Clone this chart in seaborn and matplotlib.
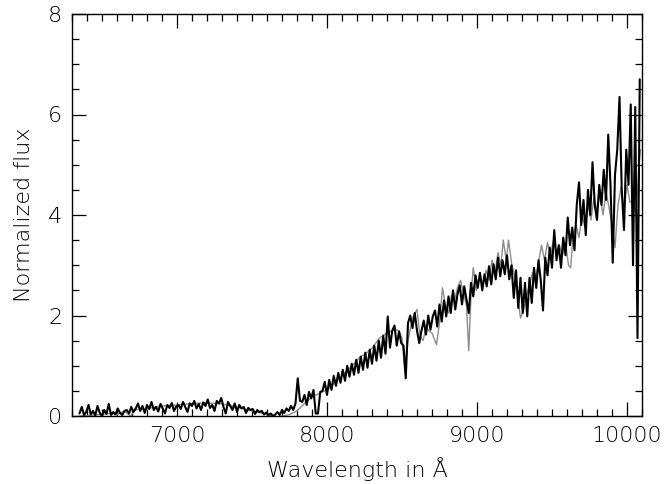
import numpy as np
import pandas as pd
import matplotlib
matplotlib.use("Agg")
import matplotlib.pyplot as plt
import seaborn as sns
from matplotlib.ticker import MultipleLocator

# ---------------- data ----------------
obs_start = 6350.0
obs_step = 15.0
obs_a = [0.05, 0.18, 0.02, 0.08, 0.22, 0.03, 0.10, 0.01, 0.20, 0.06, 0.00,
         0.12, 0.04, 0.24, 0.02, 0.08, 0.03, 0.15, 0.06, 0.02, 0.10]
obs_b = [0.12, 0.05, 0.18, 0.08, 0.15, 0.25, 0.10, 0.20, 0.06, 0.22, 0.14, 0.28,
         0.12, 0.18, 0.09, 0.24, 0.15, 0.05, 0.22, 0.16, 0.26, 0.10, 0.19]
obs_c = [0.22, 0.14, 0.28, 0.18, 0.08, 0.25, 0.20, 0.30, 0.15, 0.24,
         0.12, 0.27, 0.20, 0.33, 0.16, 0.22, 0.10, 0.30, 0.25, 0.36]
obs_d = [0.18, 0.05, 0.28, 0.20, 0.12, 0.25, 0.08, 0.22, 0.15, 0.18, 0.06, 0.16,
         0.12, 0.14, 0.04, 0.12, 0.08, 0.10, 0.03, 0.07, 0.02, 0.05, 0.00]
obs_e = [0.03, 0.08, 0.02, 0.12, 0.06, 0.15, 0.10, 0.20, 0.12, 0.25, 0.75,
         0.30, 0.28, 0.42, 0.22, 0.48, 0.35, 0.52, 0.05, 0.05, 0.48]
obs_f = [0.50, 0.68, 0.42, 0.72, 0.52, 0.80, 0.60, 0.86, 0.66, 0.92, 0.70, 1.00,
         0.78, 1.04, 0.82, 1.12, 0.86, 1.18, 0.92, 1.26, 0.96, 1.32, 1.04, 1.40,
         1.10, 1.50, 1.16, 1.60, 1.24, 1.98, 1.36, 1.70, 1.80, 1.40, 1.68, 1.45]
obs_g = [1.40, 0.75, 1.85, 2.00, 1.75, 2.05, 1.70, 1.45, 1.70, 1.90, 1.62,
         2.00, 1.72, 1.98, 2.10, 1.78, 2.22, 1.88, 2.30, 1.98, 2.38, 2.05,
         2.50, 2.12, 2.42, 2.60, 2.22, 2.58, 2.32, 2.05, 2.65, 2.38, 2.80]
obs_h = [2.55, 2.85, 2.50, 2.82, 2.58, 2.98, 2.62, 3.02, 2.72, 3.15, 2.78, 3.10,
         2.82, 3.20, 2.72, 3.00, 2.35, 2.90, 2.15, 2.75, 2.05, 2.65, 1.98, 2.75,
         2.25, 2.95, 2.55, 3.10, 2.70, 2.10, 3.15, 2.80, 3.35, 2.95]
obs_i = [3.70, 3.10, 3.40, 2.95, 3.55, 3.20, 3.95, 3.40, 3.75, 3.30,
         4.20, 4.65, 3.80, 4.30, 3.60, 4.50, 4.00, 5.05, 4.20, 3.90]
obs_j = [4.60, 4.20, 4.90, 4.30, 5.60, 4.60, 3.05, 4.80, 5.30, 6.35,
         4.50, 3.70, 5.30, 4.60, 6.20, 3.00, 6.15, 1.55, 6.70]

model_wave = [6350, 6450, 6550, 6600, 6650, 6690, 6720, 6800, 6900, 7000, 7100,
              7200, 7300, 7400, 7500, 7600, 7680, 7750, 7800, 7850, 7900, 7950,
              8000, 8050, 8100, 8150, 8200, 8220, 8250, 8300, 8350, 8400, 8450,
              8480, 8500, 8520, 8540, 8570, 8600, 8620, 8640, 8660, 8700, 8730,
              8750, 8770, 8790, 8810, 8830, 8850, 8870, 8890, 8910, 8930, 8945,
              8960, 8975, 8995, 9020, 9040, 9060, 9080, 9100, 9120, 9140, 9160,
              9175, 9195, 9210, 9230, 9250, 9270, 9290, 9310, 9330, 9350, 9370,
              9390, 9410, 9430, 9450, 9470, 9490, 9510, 9530, 9550, 9570, 9590,
              9610, 9625, 9640, 9660, 9680, 9700, 9720, 9740, 9760, 9780, 9800,
              9820, 9840, 9860, 9880, 9900, 9920, 9940, 9960, 9980, 10000, 10020,
              10040, 10060, 10080, 10090]
model_flux = [0.00, 0.02, 0.05, 0.03, 0.10, 0.00, 0.12, 0.15, 0.20, 0.22, 0.25,
              0.26, 0.24, 0.18, 0.10, 0.03, -0.02, 0.03, 0.10, 0.25, 0.38, 0.45,
              0.52, 0.65, 0.80, 0.95, 1.10, 1.18, 1.22, 1.35, 1.55, 1.65, 1.72,
              1.70, 1.55, 0.85, 1.50, 1.95, 2.12, 1.60, 1.50, 1.75, 1.65, 1.42,
              1.85, 2.55, 2.20, 2.05, 2.40, 2.30, 2.55, 2.70, 2.45, 2.20, 1.30,
              2.40, 2.95, 2.50, 2.80, 2.60, 2.90, 2.70, 3.10, 2.85, 3.25, 3.00,
              3.50, 3.10, 3.50, 3.05, 2.80, 2.40, 1.95, 2.10, 2.40, 2.60, 2.85,
              2.70, 3.05, 3.40, 3.10, 3.45, 3.20, 3.50, 3.25, 3.40, 3.20, 3.45,
              3.00, 2.95, 3.60, 3.80, 3.55, 4.00, 3.75, 4.20, 3.90, 4.35, 4.10,
              4.40, 4.00, 4.45, 4.15, 3.80, 3.35, 4.20, 4.55, 4.10, 4.60, 4.25,
              4.30, 4.00, 5.00, 5.30]

x_ticks = [7000, 8000, 9000, 10000]
y_ticks = [0, 2, 4, 6, 8]
x_label = "Wavelength in Å"
y_label = "Normalized flux"

# ---------------- build tables ----------------
obs_flux = obs_a + obs_b + obs_c + obs_d + obs_e + obs_f + obs_g + obs_h + obs_i + obs_j
obs_wave = obs_start + obs_step * np.arange(len(obs_flux))
obs_df = pd.DataFrame({"wave": obs_wave, "flux": obs_flux})
mod_df = pd.DataFrame({"wave": model_wave, "flux": model_flux})

# ---------------- plot ----------------
sns.set_theme(style="ticks")
plt.rcParams["font.family"] = ["DejaVu Sans"]

fig = plt.figure(figsize=(6.65, 4.84), dpi=100)
ax = fig.add_axes([72 / 665, 1 - 416 / 484, 570 / 665, 402 / 484])

sns.lineplot(data=mod_df, x="wave", y="flux", ax=ax, color="#8c8c8c",
             linewidth=1.0, estimator=None, sort=False)
sns.lineplot(data=obs_df, x="wave", y="flux", ax=ax, color="black",
             linewidth=1.5, estimator=None, sort=False)

ax.set_xlim(6300, 10100)
ax.set_ylim(0, 8)
ax.set_xticks(x_ticks)
ax.set_yticks(y_ticks)
ax.xaxis.set_minor_locator(MultipleLocator(100))
ax.yaxis.set_minor_locator(MultipleLocator(0.5))
ax.tick_params(which="both", direction="in", top=True, right=True,
               color="black", width=0.9, labelsize=16, labelcolor="black")
ax.tick_params(which="major", length=10, pad=7)
ax.tick_params(which="minor", length=5)
for lab in ax.get_xticklabels() + ax.get_yticklabels():
    lab.set_fontweight("light")
for sp in ax.spines.values():
    sp.set_linewidth(1.0)
    sp.set_color("black")
    sp.set_visible(True)

ax.set_xlabel(x_label, fontsize=16, fontweight="light", color="black", labelpad=8)
ax.set_ylabel(y_label, fontsize=16, fontweight="light", color="black", labelpad=10)

fig.savefig("out.png", dpi=100)
